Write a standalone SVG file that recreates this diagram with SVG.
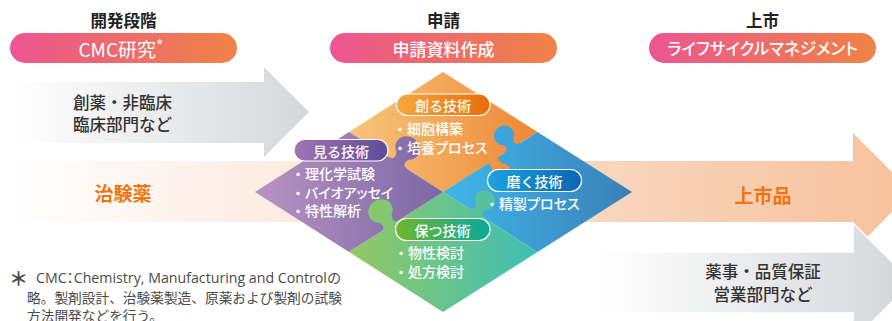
<svg xmlns="http://www.w3.org/2000/svg" width="892" height="321" viewBox="0 0 892 321">
  <style>
    text { font-family: 'Noto Sans CJK JP', sans-serif; }
    .hdr { font-size: 16.5px; font-weight: 700; fill: #222; text-anchor: middle; dominant-baseline: central; }
    .phase { font-size: 17px; font-weight: 500; fill: #fff; text-anchor: middle; dominant-baseline: central; }
    .dept { font-size: 16.5px; font-weight: 500; fill: #333; dominant-baseline: central; }
    .prod { font-size: 19px; font-weight: 700; fill: #ee7512; text-anchor: middle; dominant-baseline: central; }
    .tech { font-size: 14px; font-weight: 500; fill: #fff; text-anchor: middle; dominant-baseline: central; }
    .item { font-size: 14px; font-weight: 500; fill: #fff; dominant-baseline: central; }
    .kana { font-feature-settings: "palt"; }
    .pill { stroke: #fff; stroke-width: 1.2; }
    .note { font-family: 'Open Sans', 'Noto Sans CJK JP', sans-serif; font-size: 13.7px; fill: #4a4a4a; dominant-baseline: central; }
  </style>
  <defs>
    <linearGradient id="gPhase" x1="0" y1="0" x2="1" y2="0">
      <stop offset="0" stop-color="#ec5590"/>
      <stop offset="1" stop-color="#f08346"/>
    </linearGradient>
    <linearGradient id="gGreyL" gradientUnits="userSpaceOnUse" x1="12" y1="0" x2="305" y2="0">
      <stop offset="0" stop-color="#ffffff"/>
      <stop offset="1" stop-color="#d5d8da"/>
    </linearGradient>
    <linearGradient id="gGreyR" gradientUnits="userSpaceOnUse" x1="600" y1="0" x2="895" y2="0">
      <stop offset="0" stop-color="#ffffff"/>
      <stop offset="1" stop-color="#d5d8da"/>
    </linearGradient>
    <linearGradient id="gBand" gradientUnits="userSpaceOnUse" x1="10" y1="0" x2="895" y2="0">
      <stop offset="0" stop-color="#ffffff"/>
      <stop offset="0.3" stop-color="#fdece1"/>
      <stop offset="1" stop-color="#f6c29d"/>
    </linearGradient>
    <!-- puzzle piece fills, shared by bases and tabs -->
    <linearGradient id="gOrange" gradientUnits="userSpaceOnUse" x1="349" y1="0" x2="537" y2="0">
      <stop offset="0" stop-color="#f7c67b"/>
      <stop offset="1" stop-color="#ee8736"/>
    </linearGradient>
    <linearGradient id="gBlue" gradientUnits="userSpaceOnUse" x1="443" y1="0" x2="632" y2="0">
      <stop offset="0" stop-color="#3fb7ea"/>
      <stop offset="1" stop-color="#3a80b9"/>
    </linearGradient>
    <linearGradient id="gGreen" gradientUnits="userSpaceOnUse" x1="349" y1="0" x2="537" y2="0">
      <stop offset="0" stop-color="#93c963"/>
      <stop offset="1" stop-color="#3dbfb4"/>
    </linearGradient>
    <linearGradient id="gPurple" gradientUnits="userSpaceOnUse" x1="255" y1="0" x2="443" y2="0">
      <stop offset="0" stop-color="#b893c1"/>
      <stop offset="1" stop-color="#7b68a6"/>
    </linearGradient>
    <!-- technology label pills -->
    <linearGradient id="pOrange" x1="0" y1="0" x2="1" y2="0">
      <stop offset="0" stop-color="#f5a83f"/>
      <stop offset="1" stop-color="#e96c0b"/>
    </linearGradient>
    <linearGradient id="pPurple" x1="0" y1="0" x2="1" y2="0">
      <stop offset="0" stop-color="#a374b4"/>
      <stop offset="1" stop-color="#5d4c99"/>
    </linearGradient>
    <linearGradient id="pBlue" x1="0" y1="0" x2="1" y2="0">
      <stop offset="0" stop-color="#1ca5e0"/>
      <stop offset="1" stop-color="#0a64b2"/>
    </linearGradient>
    <linearGradient id="pGreen" x1="0" y1="0" x2="1" y2="0">
      <stop offset="0" stop-color="#70b72c"/>
      <stop offset="1" stop-color="#0ca79b"/>
    </linearGradient>
    <!-- jigsaw tab: baseline on y=0, head towards -y -->
    <path id="tab" d="M -11,3 L -11,0 C -6,0 -4,-3 -7,-9 A 12 12 0 1 1 7,-9 C 4,-3 6,0 11,0 L 11,3 Z"/>
    <clipPath id="tabPurple">
      <use href="#tab" transform="translate(398,163) rotate(32.55) scale(1.05,0.95)"/>
    </clipPath>
    <clipPath id="tabBlue">
      <use href="#tab" transform="translate(512,148) rotate(-32.4) scale(0.85,0.8)"/>
    </clipPath>
    <clipPath id="tabOrange">
      <use href="#tab" transform="translate(493,160) rotate(147.6) scale(0.85)"/>
    </clipPath>
    <clipPath id="tabGreen">
      <use href="#tab" transform="translate(477,213) rotate(32.4) scale(0.85,0.8)"/>
      <use href="#tab" transform="translate(390,226) rotate(-32.55) scale(1.05,0.95)"/>
    </clipPath>
  </defs>

  <!-- flow arrows -->
  <g id="arrow-research">
    <polygon points="10,82 264,82 264,67 309,112 264,157 264,143 10,143" fill="url(#gGreyL)"/>
    <text class="dept" x="73" y="102">創薬・非臨床</text>
    <text class="dept" x="73" y="124">臨床部門など</text>
  </g>
  <g id="arrow-product">
    <polygon points="10,161 853,161 853,133 912,192 853,251 853,222 10,222" fill="url(#gBand)"/>
    <text class="prod" x="123" y="192">治験薬</text>
    <text class="prod" x="763" y="194">上市品</text>
  </g>
  <g id="arrow-market">
    <polygon points="600,252 853,252 853,223 912,282 853,341 853,313 600,313" fill="url(#gGreyR)" stroke="#fff" stroke-width="1.5"/>
    <text class="dept" x="763" y="271" text-anchor="middle">薬事・品質保証</text>
    <text class="dept" x="763" y="294" text-anchor="middle">営業部門など</text>
  </g>

  <!-- CMC technology puzzle -->
  <g id="puzzle">
    <polygon points="443,72 537.5,132 443,192 349,132" fill="url(#gOrange)"/>
    <polygon points="537.5,132 632,192 537.5,252 443,192" fill="url(#gBlue)"/>
    <polygon points="443,192 537.5,252 443,312 349,252" fill="url(#gGreen)"/>
    <polygon points="349,132 443,192 349,252 255,192" fill="url(#gPurple)"/>
    <rect x="250" y="60" width="390" height="260" fill="url(#gPurple)" clip-path="url(#tabPurple)"/>
    <rect x="250" y="60" width="390" height="260" fill="url(#gBlue)" clip-path="url(#tabBlue)"/>
    <rect x="250" y="60" width="390" height="260" fill="url(#gOrange)" clip-path="url(#tabOrange)"/>
    <rect x="250" y="60" width="390" height="260" fill="url(#gGreen)" clip-path="url(#tabGreen)"/>
  </g>

  <g id="tech-create">
    <rect class="pill" x="396.5" y="94" width="93.5" height="21.5" rx="10.75" fill="url(#pOrange)"/>
    <text class="tech" x="443" y="105">創る技術</text>
    <text class="item" x="393" y="128">・細胞構築</text>
    <text class="item" x="393" y="147">・培養<tspan class="kana">プロセス</tspan></text>
  </g>
  <g id="tech-see">
    <rect class="pill" x="294" y="139.5" width="94" height="21.5" rx="10.75" fill="url(#pPurple)"/>
    <text class="tech" x="341" y="150.5">見る技術</text>
    <text class="item" x="291" y="173">・理化学試験</text>
    <text class="item" x="291" y="191.5">・<tspan class="kana">バイオアッセイ</tspan></text>
    <text class="item" x="291" y="210">・特性解析</text>
  </g>
  <g id="tech-refine">
    <rect class="pill" x="487.5" y="169.5" width="94" height="22" rx="11" fill="url(#pBlue)"/>
    <text class="tech" x="534.5" y="180.5">磨く技術</text>
    <text class="item" x="485" y="202.5">・精製<tspan class="kana">プロセス</tspan></text>
  </g>
  <g id="tech-keep">
    <rect class="pill" x="395.5" y="218.5" width="94.5" height="22" rx="11" fill="url(#pGreen)"/>
    <text class="tech" x="442.5" y="229.5">保つ技術</text>
    <text class="item" x="394" y="252">・物性検討</text>
    <text class="item" x="394" y="271">・処方検討</text>
  </g>

  <!-- phase headers -->
  <g id="phase-dev">
    <text class="hdr" x="123.5" y="20">開発段階</text>
    <rect x="10" y="33" width="227" height="30" rx="15" fill="url(#gPhase)"/>
    <text class="phase" x="121" y="48" style="font-size:19px;font-weight:400">CMC研究<tspan style="font-size:16px" dy="-3">*</tspan></text>
  </g>
  <g id="phase-filing">
    <text class="hdr" x="443.5" y="20">申請</text>
    <rect x="330" y="33" width="227" height="30" rx="15" fill="url(#gPhase)"/>
    <text class="phase" x="443.5" y="48">申請資料作成</text>
  </g>
  <g id="phase-market">
    <text class="hdr" x="762.5" y="20">上市</text>
    <rect x="649" y="33" width="227" height="30" rx="15" fill="url(#gPhase)"/>
    <text class="phase kana" x="762.5" y="48" style="font-size:16.5px">ライフサイクルマネジメント</text>
  </g>

  <!-- footnote -->
  <g id="footnote">
    <text class="note" x="9" y="277" style="font-family:'Noto Sans CJK JP',sans-serif;font-size:19px;font-weight:700">＊</text>
    <text class="note" x="36" y="277" style="font-size:14.2px">CMC<tspan class="kana">：</tspan>Chemistry, Manufacturing and Controlの</text>
    <text class="note" x="27" y="297">略。製剤設計、治験薬製造、原薬および製剤の試験</text>
    <text class="note" x="27" y="315">方法開発などを行う。</text>
  </g>
</svg>
